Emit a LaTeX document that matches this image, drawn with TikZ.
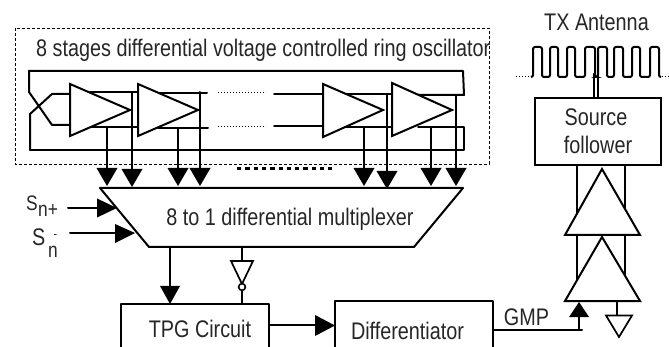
\documentclass[tikz,border=0pt]{standalone}
\usepackage{fontspec}
\setmainfont[FakeStretch=0.825]{Liberation Sans}
\begin{document}
\begin{tikzpicture}[x=1pt,y=-1pt,
  wire/.style={line width=2pt,line cap=round,line join=round},
  amp/.style={line width=2pt,fill=white,line join=miter},
  lbl/.style={inner sep=0pt,font=\fontsize{24}{26}\selectfont,text=black!85}]
\useasboundingbox (0,0) rectangle (669,347);
\clip (0,0) rectangle (669,347);
% dashed frame
\draw[line width=.6pt,dash pattern=on 3pt off 2pt] (15,28) rectangle (489,164);
\node[lbl,anchor=west] (title) at (36,50) {8 stages differential voltage controlled ring oscillator};
% ring wires
\draw[wire] (29,71) -- (463,71) -- (464,95) -- (418,95);
\draw[wire] (30,150) -- (464,150) -- (464,127) -- (418,127);
\draw[wire] (29,71) -- (29,92) -- (52,125) -- (70,125);
\draw[wire] (30,150) -- (30,114) -- (52,94) -- (70,94);
\draw[wire] (90,92) -- (138,92) (90,127) -- (138,127);
\draw[wire] (158,93) -- (207,93) (158,128) -- (208,128);
\draw[wire] (274,94) -- (323,94) (274,126) -- (323,126);
\draw[wire] (345,94) -- (392,94) (345,127) -- (392,127);
\draw[line width=1pt,dotted] (218,93) -- (266,93) (218,127) -- (266,127);
% buffers
\draw[amp] (70,84) -- (130,110) -- (70,136) -- cycle;
\draw[amp] (138,84) -- (198,110) -- (138,136) -- cycle;
\draw[amp] (323,84) -- (383,110) -- (323,137) -- cycle;
\draw[amp] (392,83) -- (452,110) -- (392,136) -- cycle;
% tap arrows
\foreach \x/\ys/\yb in {107/127/168,132/92/169,178/128/168,200/92/168,364/127/168,387/94/171,431/127/168,456/95/168}{
  \draw[wire] (\x,\ys) -- (\x,\yb);
  \fill (\x-10.5,\yb) -- (\x+10.5,\yb) -- (\x,\yb+18) -- cycle;
}
\draw[line width=3pt,dash pattern=on 4.3pt off 4pt] (237,169) -- (332,169);
% multiplexer
\draw[wire] (100,188) -- (463,188) -- (414,247) -- (149,247) -- cycle;
\node[lbl] (mux) at (290,219) {8 to 1 differential multiplexer};
% selects
\node[lbl,anchor=west,font=\fontsize{21}{22}\selectfont] (s1) at (26,203) {S};
\node[lbl,anchor=west,font=\fontsize{21}{22}\selectfont] (s1n) at (38,210) {n+};
\node[lbl,anchor=west] (s2) at (32,237) {S};
\node[lbl,anchor=west,font=\fontsize{21}{22}\selectfont] (s2n) at (48,252) {n};
\node[lbl,font=\fontsize{13}{14}\selectfont] (s2m) at (55.5,237) {-};
\coordinate (a1) at (68,208); \coordinate (a2) at (70,233);
\draw[wire] (a1) -- (100,208);
\fill (97,198.5) -- (117,208) -- (97,217.5) -- cycle;
\draw[wire] (a2) -- (118,233);
\fill (115,224) -- (135,233) -- (115,243) -- cycle;
% boxes
\draw[wire] (121,347) -- (121,304) -- (269,304) -- (269,347);
\node[lbl] (tpg) at (200,329) {TPG Circuit};
\draw[wire] (335,347) -- (335,301) -- (493,301) -- (493,347);
\node[lbl] (diff) at (407.5,331) {Differentiator};
% mux to tpg
\draw[wire] (170,247) -- (170,286);
\fill (160,286) -- (180,286) -- (170,304) -- cycle;
% inverter
\draw[wire] (242,247) -- (242,261) (242,291) -- (242,304);
\draw[line width=1.7pt,fill=white] (231,261) -- (253,261) -- (242,284) -- cycle;
\draw[line width=1.6pt,fill=white] (242,287) circle (3.4);
% tpg to diff
\draw[wire] (269,325) -- (316,325);
\fill (315,315) -- (335,325.5) -- (315,336) -- cycle;
% GMP
\node[lbl] (gmp) at (526.5,317) {GMP};
\draw[wire] (493,330) -- (582,330) (579,330) -- (579,316);
\fill (569,317) -- (589,317) -- (579,302) -- cycle;
% amp side wires
\draw[wire] (577,165) -- (577,280) (625,165) -- (625,280);
\draw[amp] (565,235) -- (640,235) -- (602,169) -- cycle;
\draw[amp] (565,301) -- (640,301) -- (602,237) -- cycle;
\draw[wire] (617,301) -- (617,315);
\draw[line width=1.7pt] (606,315.5) -- (632,315.5) -- (619,337) -- cycle;
% source follower
\draw[wire] (594,74) -- (594,98) (598,74) -- (598,98);
\node[draw,line width=2pt,minimum width=126pt,minimum height=67pt,inner sep=0pt] (sf) at (598,131.5) {};
\node[lbl] (t1) at (596,117) {Source};
\node[lbl] (t2) at (598,145) {follower};
\node[lbl] (tx) at (596.5,22) {TX Antenna};
% antenna
\draw[line width=1pt,dotted] (516,76.5) -- (531,76.5) (662,76.5) -- (669,76.5);
\draw[line width=2pt,rounded corners=2pt]
  (531,77) -- (533,77) -- (533,47) -- (542,47) -- (542,77) -- (550,77) -- (550,47) -- (558,47)
  -- (558,77) -- (567,77) -- (567,47) -- (575,47) -- (575,77) -- (585,77) -- (585,47) -- (595,47)
  -- (595,77) -- (598,77) -- (598,47) -- (607,47) -- (607,77) -- (614,77) -- (614,47) -- (623,47)
  -- (623,77) -- (632,77) -- (632,47) -- (640,47) -- (640,77) -- (650,77) -- (650,47) -- (659,47)
  -- (659,77) -- (661,77);
\end{tikzpicture}
\end{document}
